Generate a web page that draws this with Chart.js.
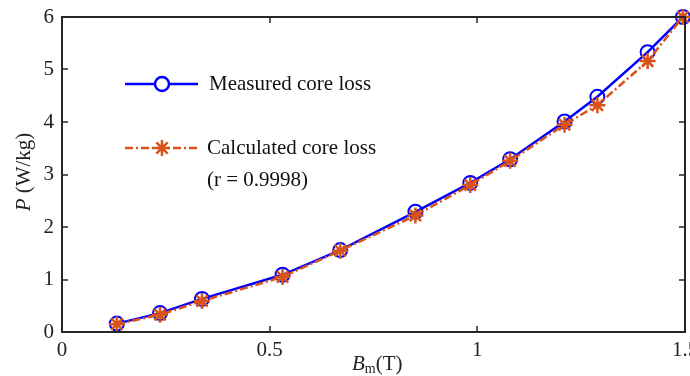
<!DOCTYPE html>
<html>
<head>
<meta charset="utf-8">
<script src="https://cdn.jsdelivr.net/npm/chart.js@4/dist/chart.umd.min.js"></script>
<style>
  html, body { margin: 0; padding: 0; background: #fff; }
  #wrap { width: 690px; height: 376px; }
</style>
</head>
<body>
<div id="wrap"><canvas id="chart" width="690" height="376"></canvas></div>
<script>
// flux density B_m (T)
const bm = [0.132, 0.236, 0.337, 0.531, 0.67, 0.851, 0.983, 1.079, 1.21, 1.289, 1.41, 1.495];
// measured and calculated core loss P (W/kg)
const measured   = [0.16, 0.36, 0.63, 1.09, 1.56, 2.29, 2.84, 3.29, 4.01, 4.48, 5.33, 6.0];
const calculated = [0.15, 0.33, 0.59, 1.05, 1.55, 2.22, 2.80, 3.26, 3.95, 4.32, 5.16, 6.0];
const xTicks = [0, 0.5, 1, 1.5];
const yTicks = [0, 1, 2, 3, 4, 5, 6];

const FONT = 'Liberation Serif';
const FS = 21;
const AXIS = '#262626';
const BLUE = '#0000ff';
const ORANGE = '#d95319';

const toXY = vals => vals.map((v, i) => ({ x: bm[i], y: v }));

// frame, inside ticks, axis titles and legend (MATLAB look)
const decor = {
  id: 'decor',
  afterDraw(chart) {
    const { ctx, chartArea: a, scales: { x, y } } = chart;
    ctx.save();
    ctx.strokeStyle = AXIS;
    ctx.lineWidth = 2;
    ctx.strokeRect(a.left, a.top, a.right - a.left, a.bottom - a.top);
    ctx.lineWidth = 1.5;
    ctx.beginPath();
    xTicks.slice(1, -1).forEach(t => {
      const px = Math.round(x.getPixelForValue(t));
      ctx.moveTo(px, a.bottom); ctx.lineTo(px, a.bottom - 6);
      ctx.moveTo(px, a.top);    ctx.lineTo(px, a.top + 6);
    });
    yTicks.slice(1, -1).forEach(t => {
      const py = Math.round(y.getPixelForValue(t));
      ctx.moveTo(a.left, py);  ctx.lineTo(a.left + 6, py);
      ctx.moveTo(a.right, py); ctx.lineTo(a.right - 6, py);
    });
    ctx.stroke();

    // axis titles
    ctx.fillStyle = '#222';
    ctx.textBaseline = 'alphabetic';
    // x: B_m(T)
    let cx = 352, by = 370;
    ctx.font = `italic ${FS}px ${FONT}`;
    ctx.textAlign = 'left';
    ctx.fillText('B', cx, by);
    cx += ctx.measureText('B').width;
    ctx.font = `14px ${FONT}`;
    ctx.fillText('m', cx, by + 3);
    cx += ctx.measureText('m').width;
    ctx.font = `${FS}px ${FONT}`;
    ctx.fillText('(T)', cx, by);

    // y: P (W/kg)
    ctx.save();
    ctx.translate(30, 172);
    ctx.rotate(-Math.PI / 2);
    ctx.font = `italic ${FS}px ${FONT}`;
    const w1 = ctx.measureText('P ').width;
    ctx.font = `${FS}px ${FONT}`;
    const w2 = ctx.measureText('(W/kg)').width;
    const sx = -(w1 + w2) / 2;
    ctx.font = `italic ${FS}px ${FONT}`;
    ctx.fillText('P ', sx, 0);
    ctx.font = `${FS}px ${FONT}`;
    ctx.fillText('(W/kg)', sx + w1, 0);
    ctx.restore();

    // legend
    const x0 = 125, x1 = 198, mx = 162;
    ctx.lineWidth = 2.5;
    ctx.strokeStyle = BLUE;
    ctx.fillStyle = '#fff';
    ctx.beginPath(); ctx.moveTo(x0, 84); ctx.lineTo(x1, 84); ctx.stroke();
    Chart.helpers.drawPoint(ctx, { pointStyle: 'circle', radius: 7, borderWidth: 2 }, mx, 84);
    ctx.strokeStyle = ORANGE;
    ctx.setLineDash([8, 3, 2, 3]);
    ctx.beginPath(); ctx.moveTo(x0, 148); ctx.lineTo(x1, 148); ctx.stroke();
    ctx.setLineDash([]);
    Chart.helpers.drawPoint(ctx, { pointStyle: 'star', radius: 8, borderWidth: 2.5 }, mx, 148);

    ctx.fillStyle = '#111';
    ctx.font = `${FS}px ${FONT}`;
    ctx.textAlign = 'left';
    ctx.textBaseline = 'middle';
    ctx.fillText('Measured core loss', 209, 84);
    ctx.fillText('Calculated core loss', 207, 148);
    ctx.fillText('(r = 0.9998)', 207, 180);
    ctx.restore();
  }
};

new Chart(document.getElementById('chart'), {
  type: 'line',
  data: {
    datasets: [
      {
        label: 'Measured core loss',
        data: toXY(measured),
        borderColor: BLUE,
        borderWidth: 2.5,
        pointStyle: 'circle',
        pointRadius: 7,
        pointBorderWidth: 2,
        pointBorderColor: BLUE,
        pointBackgroundColor: 'rgba(0,0,0,0)',
        clip: false,
        order: 2,
      },
      {
        label: 'Calculated core loss',
        data: toXY(calculated),
        borderColor: ORANGE,
        borderWidth: 2.5,
        borderDash: [8, 3, 2, 3],
        pointStyle: 'star',
        pointRadius: 8,
        pointBorderWidth: 2.5,
        pointBorderColor: ORANGE,
        clip: false,
        order: 1,
      },
    ],
  },
  options: {
    responsive: false,
    animation: false,
    layout: { autoPadding: false, padding: { top: 17, right: 5, left: 0, bottom: 0 } },
    scales: {
      x: {
        type: 'linear',
        min: 0, max: 1.5,
        afterBuildTicks: s => { s.ticks = xTicks.map(v => ({ value: v })); },
        afterFit: s => { s.height = 44; s.paddingLeft = 0; s.paddingRight = 0; },
        grid: { display: false, drawTicks: false },
        border: { display: false },
        ticks: {
          font: { family: FONT, size: FS },
          color: '#222',
          padding: 6,
          maxRotation: 0,
          callback: v => String(v),
        },
      },
      y: {
        min: 0, max: 6,
        afterBuildTicks: s => { s.ticks = yTicks.map(v => ({ value: v })); },
        afterFit: s => { s.width = 62; s.paddingTop = 0; s.paddingBottom = 0; },
        grid: { display: false, drawTicks: false },
        border: { display: false },
        ticks: {
          font: { family: FONT, size: FS },
          color: '#222',
          padding: 8,
        },
      },
    },
    plugins: {
      legend: { display: false },
      tooltip: { enabled: false },
    },
  },
  plugins: [decor],
});
</script>
</body>
</html>
